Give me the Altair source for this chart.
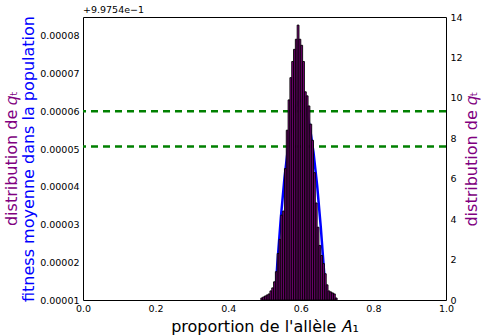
import altair as alt
import pandas as pd

# ---- data ----
# histogram of allele proportion (bin width 0.005, first bin starts at 0.490)
bin_width = 0.005
bin_left = [round(0.490 + bin_width * i, 3) for i in range(42)]
bin_density = [0.1, 0.15, 0.2, 0.25, 0.3, 0.45, 0.6, 0.9, 1.4, 2.3,
               3.0, 4.2, 4.4, 6.5, 8.4, 9.9, 11.0, 11.8, 12.4, 12.9,
               13.6, 12.9, 12.6, 11.8, 10.3, 10.1, 9.6, 8.7, 7.9, 6.3,
               4.8, 3.6, 2.7, 2.2, 1.8, 1.3, 0.75, 0.45, 0.4, 0.35,
               0.3, 0.1]

# mean fitness curve (values shown relative to the offset +9.9754e-1)
curve_p = [0.525, 0.535, 0.545, 0.555, 0.565, 0.575, 0.585, 0.595,
           0.605, 0.615, 0.625, 0.635, 0.645, 0.655, 0.665, 0.675]
curve_w = [0.44e-5, 1.92e-5, 3.18e-5, 4.23e-5, 5.06e-5, 5.68e-5, 6.09e-5, 6.28e-5,
           6.26e-5, 6.03e-5, 5.58e-5, 4.91e-5, 4.04e-5, 2.94e-5, 1.64e-5, 0.12e-5]

# horizontal dashed reference lines (left axis)
hline_w = [6.0e-5, 5.07e-5]

left_ticks = [1e-5, 2e-5, 3e-5, 4e-5, 5e-5, 6e-5, 7e-5, 8e-5]
right_ticks = [0, 2, 4, 6, 8, 10, 12, 14]
x_ticks = [0.0, 0.2, 0.4, 0.6, 0.8, 1.0]
offset_label = "+9.9754e\u22121"

hist_df = pd.DataFrame({"x0": bin_left,
                        "x1": [round(b + bin_width, 3) for b in bin_left],
                        "d": bin_density})
curve_df = pd.DataFrame({"p": curve_p, "w": curve_w})
hline_df = pd.DataFrame({"w": hline_w})

W, H = 363, 283
FONT = "DejaVu Sans"
PURPLE = "#800080"
BLUE = "#0000ff"
LABEL_SIZE = 9.5

xscale = alt.Scale(domain=[0, 1], nice=False, zero=False)
lscale = alt.Scale(domain=[1e-5, 8.5e-5], nice=False, zero=False)
rscale = alt.Scale(domain=[0, 14], nice=False)

x_axis = alt.Axis(values=x_ticks, format=".1f", title="proportion de l'allèle 𝐴₁",
                  labelFlush=False, ticks=False, domain=False, grid=False,
                  labelPadding=3, labelFont=FONT, labelFontSize=LABEL_SIZE, labelColor="black",
                  titleFont=FONT, titleFontSize=16, titleFontWeight="normal",
                  titleColor="black", titleBaseline="alphabetic",
                  titleX=W / 2, titleY=31)

line = alt.Chart(curve_df).mark_line(color=BLUE, strokeWidth=2.5, clip=True).encode(
    x=alt.X("p:Q", scale=xscale, axis=x_axis),
    y=alt.Y("w:Q", scale=lscale,
            axis=alt.Axis(values=left_ticks, format=".5f", orient="left",
                          title="fitness moyenne dans la population",
                          ticks=False, domain=False, grid=False, labelPadding=4,
                          labelFont=FONT, labelFontSize=LABEL_SIZE, labelColor="black",
                          titleFont=FONT, titleFontSize=16, titleFontWeight="normal",
                          titleColor=BLUE, titleAngle=270, titleBaseline="alphabetic",
                          titleAlign="center", titleX=-50, titleY=H / 2)),
)

rules = alt.Chart(hline_df).mark_rule(color="#008000", strokeWidth=2.5,
                                      strokeDash=[7, 5]).encode(y=alt.Y("w:Q"))

offset_text = alt.Chart(pd.DataFrame({"t": [offset_label]})).mark_text(
    align="left", baseline="alphabetic", font=FONT, fontSize=LABEL_SIZE, color="black"
).encode(x=alt.value(0), y=alt.value(-4), text="t:N")

purple_left = alt.Chart(pd.DataFrame({"t": ["distribution de 𝑞ₜ"]})).mark_text(
    align="center", baseline="alphabetic", font=FONT, fontSize=16, color=PURPLE, angle=270
).encode(x=alt.value(-66), y=alt.value(H / 2), text="t:N")

left = alt.layer(line, rules, offset_text, purple_left)

bars = alt.Chart(hist_df).mark_rect(fill=PURPLE, stroke="black", strokeWidth=0.9,
                                    opacity=1).encode(
    x=alt.X("x0:Q", scale=xscale, axis=x_axis),
    x2="x1:Q",
    y=alt.Y("d:Q", scale=rscale,
            axis=alt.Axis(values=right_ticks, format="d", orient="right",
                          title="distribution de 𝑞ₜ", ticks=False, domain=False, grid=False,
                          labelPadding=4, labelFont=FONT, labelFontSize=LABEL_SIZE,
                          labelColor="black", titleFont=FONT, titleFontSize=16,
                          titleFontWeight="normal", titleColor=PURPLE, titleAngle=270,
                          titleBaseline="alphabetic", titleAlign="center",
                          titleX=30, titleY=H / 2)),
    y2=alt.datum(0),
)

chart = alt.layer(left, bars).resolve_scale(y="independent").properties(
    width=W, height=H,
    padding={"left": 83, "top": 17, "right": 35, "bottom": 36},
    autosize=alt.AutoSizeParams(type="none"),
    background="white",
).configure_view(stroke="black", strokeWidth=1)

chart.save("out.html", embed_options={"renderer": "svg", "actions": False})
